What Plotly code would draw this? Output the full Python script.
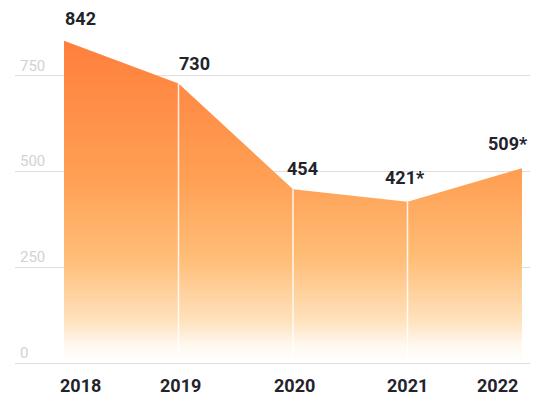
import plotly.graph_objects as go

# Yearly totals (the last two are provisional, marked with *)
years = ["2018", "2019", "2020", "2021", "2022"]
values = [842, 730, 454, 421, 509]
value_labels = ["842", "730", "454", "421*", "509*"]
y_ticks = [0, 250, 500, 750]

xs = list(range(len(years)))

fig = go.Figure()

# Orange area fading to white at the bottom
fig.add_trace(go.Scatter(
    x=xs, y=values, mode="lines", fill="tozeroy",
    line=dict(width=0, color="rgba(0,0,0,0)"),
    fillgradient=dict(
        type="vertical",
        colorscale=[
            [0.0, "#FFFFFF"],
            [0.055, "#FFF8F0"],
            [0.13, "#FFE2BE"],
            [0.32, "#FFBE78"],
            [0.57, "#FFA055"],
            [1.0, "#FF7F3C"],
        ],
    ),
    hoverinfo="skip", showlegend=False,
))

# Thin white separators under the inner data points
sep_x, sep_y = [], []
for i in range(1, len(years) - 1):
    sep_x += [xs[i], xs[i], None]
    sep_y += [0, values[i], None]
fig.add_trace(go.Scatter(
    x=sep_x, y=sep_y, mode="lines",
    line=dict(color="rgba(255,255,255,0.85)", width=1.5),
    hoverinfo="skip", showlegend=False,
))

# Value labels above each point
label_shift = [(16, 10), (16, 8), (10, 8), (-2, 12), (-14, 12)]
for x, v, t, (dx, dy) in zip(xs, values, value_labels, label_shift):
    fig.add_annotation(
        x=x, y=v, text=t, showarrow=False, xanchor="center", yanchor="bottom",
        xshift=dx, yshift=dy,
        font=dict(family="Roboto", size=18, color="#23232b", weight="bold"),
    )

# Year labels under the axis
year_shift = [16, 2, 2, 0, -24]
for x, t, dx in zip(xs, years, year_shift):
    fig.add_annotation(
        x=x, y=0, yref="y", text=t, showarrow=False,
        xanchor="center", yanchor="top", xshift=dx, yshift=-10,
        font=dict(family="Roboto", size=18, color="#23232b", weight="bold"),
    )

fig.update_layout(
    width=535, height=398,
    margin=dict(l=15, r=5, t=10, b=30),
    paper_bgcolor="white", plot_bgcolor="white",
    xaxis=dict(range=[-0.428, 4.07], showgrid=False, zeroline=False,
               showticklabels=False, fixedrange=True),
    yaxis=dict(
        range=[-13, 922], tickvals=y_ticks, ticktext=[str(t) for t in y_ticks],
        showgrid=True, gridcolor="#dedede", gridwidth=1,
        zeroline=False, ticklabelposition="inside top",
        tickfont=dict(family="Roboto", size=15, color="#d2d2d2"),
        ticklabelstandoff=2,
    ),
    showlegend=False,
)

fig.write_html("out.html")
